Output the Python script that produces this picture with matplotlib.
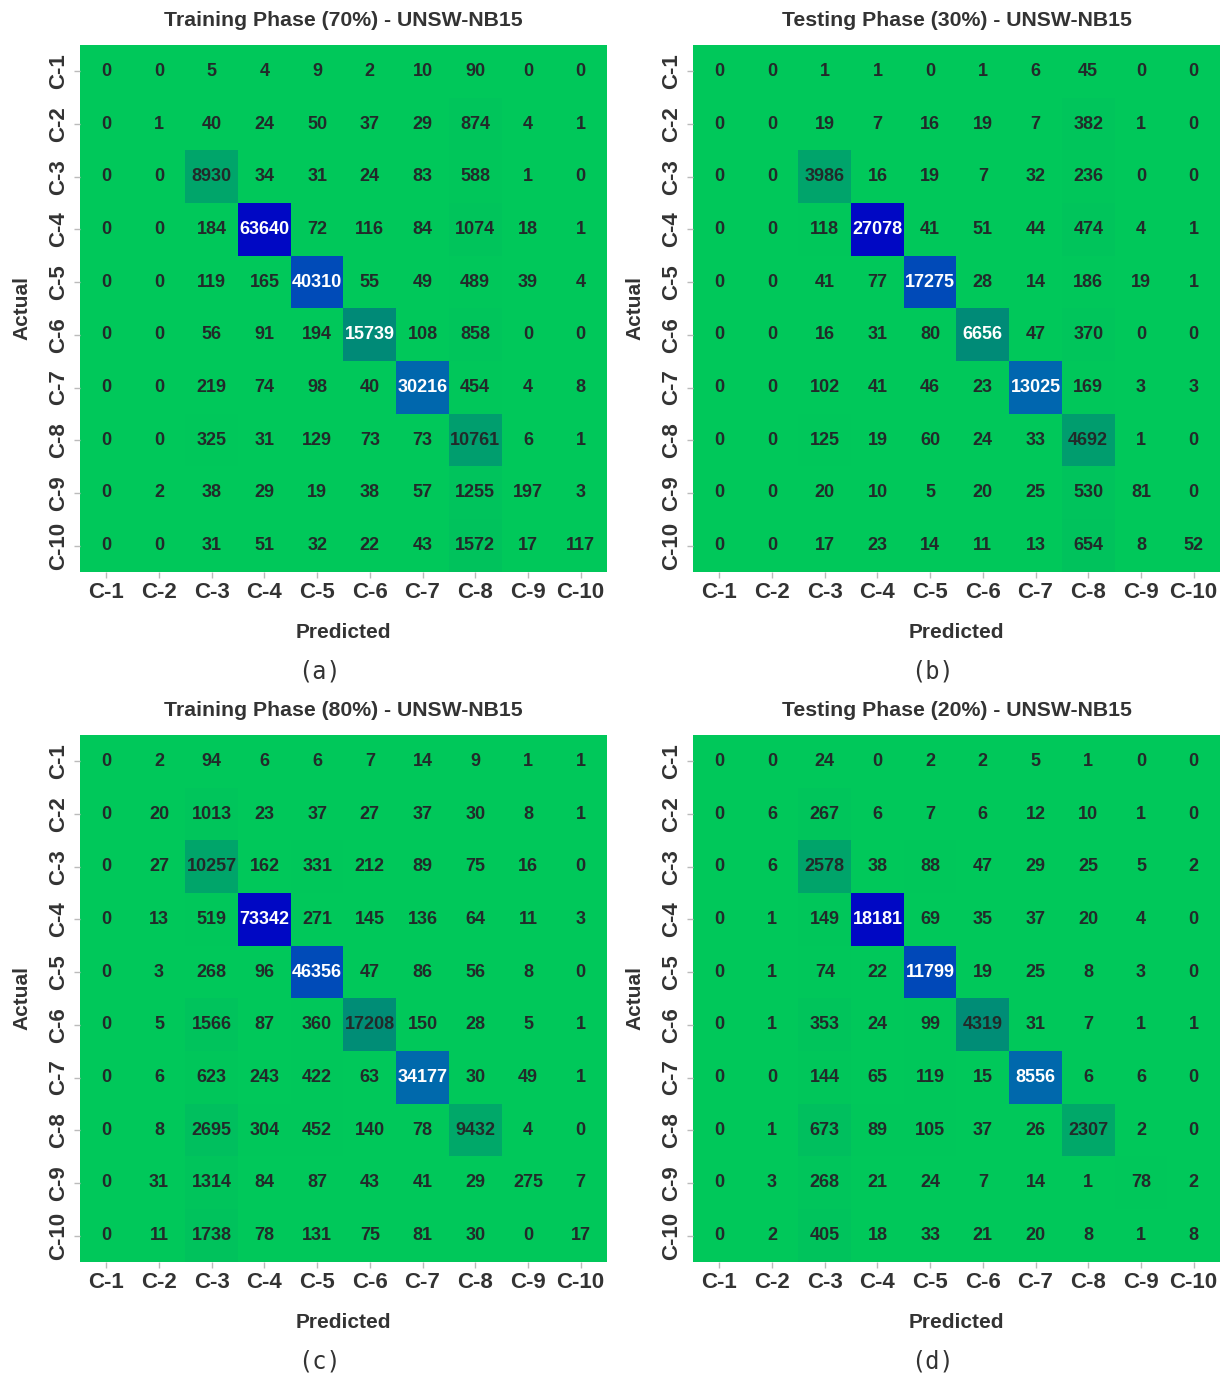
import matplotlib
matplotlib.use("Agg")
import matplotlib.pyplot as plt
from matplotlib.colors import LinearSegmentedColormap
import numpy as np

# Class labels
classes = ['C-1', 'C-2', 'C-3', 'C-4', 'C-5', 'C-6', 'C-7', 'C-8', 'C-9', 'C-10']

# Confusion matrices (rows = actual, cols = predicted)
cm_train70 = [
    [0, 0, 5, 4, 9, 2, 10, 90, 0, 0],
    [0, 1, 40, 24, 50, 37, 29, 874, 4, 1],
    [0, 0, 8930, 34, 31, 24, 83, 588, 1, 0],
    [0, 0, 184, 63640, 72, 116, 84, 1074, 18, 1],
    [0, 0, 119, 165, 40310, 55, 49, 489, 39, 4],
    [0, 0, 56, 91, 194, 15739, 108, 858, 0, 0],
    [0, 0, 219, 74, 98, 40, 30216, 454, 4, 8],
    [0, 0, 325, 31, 129, 73, 73, 10761, 6, 1],
    [0, 2, 38, 29, 19, 38, 57, 1255, 197, 3],
    [0, 0, 31, 51, 32, 22, 43, 1572, 17, 117],
]
cm_test30 = [
    [0, 0, 1, 1, 0, 1, 6, 45, 0, 0],
    [0, 0, 19, 7, 16, 19, 7, 382, 1, 0],
    [0, 0, 3986, 16, 19, 7, 32, 236, 0, 0],
    [0, 0, 118, 27078, 41, 51, 44, 474, 4, 1],
    [0, 0, 41, 77, 17275, 28, 14, 186, 19, 1],
    [0, 0, 16, 31, 80, 6656, 47, 370, 0, 0],
    [0, 0, 102, 41, 46, 23, 13025, 169, 3, 3],
    [0, 0, 125, 19, 60, 24, 33, 4692, 1, 0],
    [0, 0, 20, 10, 5, 20, 25, 530, 81, 0],
    [0, 0, 17, 23, 14, 11, 13, 654, 8, 52],
]
cm_train80 = [
    [0, 2, 94, 6, 6, 7, 14, 9, 1, 1],
    [0, 20, 1013, 23, 37, 27, 37, 30, 8, 1],
    [0, 27, 10257, 162, 331, 212, 89, 75, 16, 0],
    [0, 13, 519, 73342, 271, 145, 136, 64, 11, 3],
    [0, 3, 268, 96, 46356, 47, 86, 56, 8, 0],
    [0, 5, 1566, 87, 360, 17208, 150, 28, 5, 1],
    [0, 6, 623, 243, 422, 63, 34177, 30, 49, 1],
    [0, 8, 2695, 304, 452, 140, 78, 9432, 4, 0],
    [0, 31, 1314, 84, 87, 43, 41, 29, 275, 7],
    [0, 11, 1738, 78, 131, 75, 81, 30, 0, 17],
]
cm_test20 = [
    [0, 0, 24, 0, 2, 2, 5, 1, 0, 0],
    [0, 6, 267, 6, 7, 6, 12, 10, 1, 0],
    [0, 6, 2578, 38, 88, 47, 29, 25, 5, 2],
    [0, 1, 149, 18181, 69, 35, 37, 20, 4, 0],
    [0, 1, 74, 22, 11799, 19, 25, 8, 3, 0],
    [0, 1, 353, 24, 99, 4319, 31, 7, 1, 1],
    [0, 0, 144, 65, 119, 15, 8556, 6, 6, 0],
    [0, 1, 673, 89, 105, 37, 26, 2307, 2, 0],
    [0, 3, 268, 21, 24, 7, 14, 1, 78, 2],
    [0, 2, 405, 18, 33, 21, 20, 8, 1, 8],
]

titles = ['Training Phase (70%) - UNSW-NB15', 'Testing Phase (30%) - UNSW-NB15',
          'Training Phase (80%) - UNSW-NB15', 'Testing Phase (20%) - UNSW-NB15']
captions = ['(a)', '(b)', '(c)', '(d)']
matrices = [cm_train70, cm_test30, cm_train80, cm_test20]

cmap = LinearSegmentedColormap.from_list(
    'gb', [(0.0, '#00C85A'), (0.25, '#008A78'), (0.5, '#0064B4'), (1.0, '#0008C4')])

plt.rcParams['font.family'] = ['Liberation Sans', 'DejaVu Sans']
txt = '#333333'

fig = plt.figure(figsize=(12.29, 13.75), dpi=100)

# axes positions in figure fraction: left, bottom
W, H = 527 / 1229, 527 / 1375
positions = [(80 / 1229, 1 - 572 / 1375), (693 / 1229, 1 - 572 / 1375),
             (80 / 1229, 1 - 1262 / 1375), (693 / 1229, 1 - 1262 / 1375)]

for mat, title, cap, (l, b) in zip(matrices, titles, captions, positions):
    data = np.array(mat)
    ax = fig.add_axes([l, b, W, H])
    vmax = data.max()
    ax.imshow(data, cmap=cmap, vmin=0, vmax=vmax, aspect='auto', interpolation='nearest')
    for i in range(10):
        for j in range(10):
            v = data[i, j]
            color = 'white' if v / vmax > 0.24 else '#222a2a'
            ax.text(j, i, str(v), ha='center', va='center', fontsize=13,
                    fontweight='bold', color=color)
    ax.set_xticks(range(10))
    ax.set_yticks(range(10))
    ax.set_xticklabels(classes, fontsize=16, color=txt, fontweight='bold')
    ax.set_yticklabels(classes, fontsize=16, color=txt, fontweight='bold',
                       rotation=90, va='center')
    ax.tick_params(length=4, color='#bbbbbb', width=1)
    for s in ax.spines.values():
        s.set_visible(False)
    ax.set_title(title, fontsize=15.3, fontweight='bold', color=txt, pad=14)
    ax.set_xlabel('Predicted', fontsize=15, fontweight='bold', color=txt, labelpad=14)
    ax.set_ylabel('Actual', fontsize=15, fontweight='bold', color=txt, labelpad=12)
    ax.text(0.455, -0.188, cap, transform=ax.transAxes, ha='center', va='center',
            fontsize=17, color=txt, family='DejaVu Sans Mono')

plt.savefig('out.png', dpi=100)
